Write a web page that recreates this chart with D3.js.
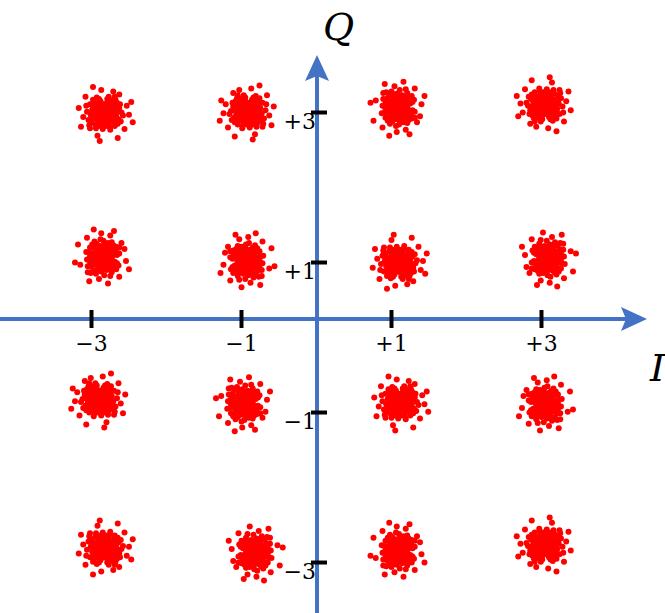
<!DOCTYPE html>
<html>
<head>
<meta charset="utf-8">
<script src="https://cdn.jsdelivr.net/npm/d3@7"></script>
<style>
  html, body { margin: 0; padding: 0; background: #ffffff; }
  svg { display: block; }
</style>
</head>
<body>
<svg id="chart" width="665" height="613"></svg>
<script>
// ---- data ----
const tickValues = [-3, -1, 1, 3];
const xTickLabels = ["\u22123", "\u22121", "+1", "+3"];
const yTickLabels = ["\u22123", "\u22121", "+1", "+3"];
// measured cluster centres (I, Q) of the 16-QAM constellation
const clusterI = [-2.83, -0.91, 1.09, 3.05,
                  -2.85, -0.93, 1.09, 3.09,
                  -2.89, -0.97, 1.11, 3.05,
                  -2.83, -0.82, 1.09, 3.05];
const clusterQ = [2.99, 3.01, 3.07, 3.10,
                  1.06, 1.01, 1.00, 1.06,
                  -0.83, -0.87, -0.87, -0.90,
                  -2.81, -2.86, -2.85, -2.77];
// estimated noise offsets (I, Q) of the received symbols around a centre
const noiseI = [0.02,-0.11,0.14,-0.06,0.09,-0.18,0.05,0.12,-0.03,0.20,
  -0.14,0.07,-0.09,0.16,-0.01,0.04,-0.16,0.11,-0.07,0.18,
  -0.21,0.01,0.13,-0.05,0.08,-0.12,0.23,-0.02,0.06,-0.19,
  0.10,-0.08,0.03,0.15,-0.13,0.19,-0.04,0.06,-0.17,0.12,
  -0.10,0.00,0.21,-0.23,0.08,-0.06,0.14,-0.15,0.03,0.17,
  -0.03,0.09,-0.20,0.25,-0.11,0.05,-0.14,0.11,-0.07,0.02,
  0.30,-0.28,0.12,-0.09,0.27,-0.25,0.33,-0.04,0.20,-0.31,
  0.07,-0.02,0.13,-0.12,0.04,-0.17,0.18,-0.08,0.10,-0.01,
  0.16,-0.05,0.07,-0.15,0.01,0.22,-0.19,0.14,-0.24,0.06,
  0.36,-0.34,0.18,-0.15,0.38,-0.06,
  0.00,0.05,-0.04,0.08,-0.08,0.03,-0.02,0.10,-0.10,0.06,
  -0.06,0.01,0.09,-0.05,0.04,-0.09,0.11,-0.01,0.07,-0.07,
  0.02,-0.11,0.05,-0.03,0.12,-0.12,0.08,-0.04,0.00,0.03,
  -0.08,0.10,-0.06,0.06,-0.02,0.13,-0.13,0.04,-0.10,0.09];
const noiseQ = [-0.05,0.08,0.03,-0.13,0.12,-0.02,0.17,-0.10,0.01,0.07,
  0.15,-0.18,-0.07,-0.04,0.11,-0.09,0.05,0.15,0.19,-0.14,
  -0.09,0.06,0.09,-0.17,0.02,-0.15,0.01,-0.21,0.22,0.12,
  -0.02,0.03,0.13,0.18,-0.04,-0.08,0.07,-0.14,-0.12,0.05,
  0.21,-0.12,0.12,0.02,-0.22,-0.01,-0.17,0.18,0.03,0.14,
  -0.08,0.08,-0.16,-0.03,-0.20,0.10,0.09,-0.06,0.14,-0.17,
  0.10,-0.05,0.29,-0.30,-0.21,0.22,-0.02,0.31,0.25,-0.18,
  -0.03,0.04,-0.12,0.12,0.19,-0.06,0.02,-0.11,0.17,-0.03,
  0.10,0.16,-0.08,0.00,-0.15,-0.11,-0.20,0.22,0.10,0.05,
  0.15,0.07,-0.33,0.35,-0.12,-0.37,
  0.00,-0.03,0.06,0.05,-0.02,-0.09,0.10,-0.06,0.04,0.09,
  -0.08,0.12,-0.01,0.02,-0.05,0.08,0.04,-0.11,-0.09,0.11,
  0.07,-0.04,0.00,-0.12,-0.03,0.01,0.12,0.13,-0.08,0.03,
  -0.10,0.07,0.06,-0.05,-0.06,0.08,-0.07,0.10,0.12,0.01];
// per-cluster orientation of the noise pattern [flipI, flipQ, swap]
const clusterOrient = [[1,1,0],[-1,1,0],[1,-1,1],[-1,-1,0],
                       [1,1,1],[-1,1,1],[1,-1,0],[-1,-1,1],
                       [-1,1,0],[1,-1,1],[1,1,0],[-1,1,1],
                       [1,-1,0],[-1,-1,1],[1,1,1],[-1,-1,0]];
const axisLabels = { x: "I", y: "Q" };

// ---- layout ----
const W = 665, H = 613;
const x = d3.scaleLinear().domain([-4.22, 4.647]).range([0, W]);
const y = d3.scaleLinear().domain([4.5, -3.673]).range([0, H]);
const hAxisQ = 0.247;     // level where the I axis crosses
const vAxisI = 0.007;     // level where the Q axis crosses
const axisColor = "#4472C4";

const svg = d3.select("#chart");

// points
const pts = [];
clusterI.forEach((ci, k) => {
  const [fi, fq, sw] = clusterOrient[k];
  noiseI.forEach((ni, j) => {
    const nq = noiseQ[j];
    const a = sw ? nq : ni, b = sw ? ni : nq;
    pts.push([ci + fi * a, clusterQ[k] + fq * b]);
  });
});
svg.append("g").selectAll("circle").data(pts).join("circle")
  .attr("cx", d => x(d[0])).attr("cy", d => y(d[1]))
  .attr("r", 3).attr("fill", "#ff0000");

// axes lines
const xEnd = 4.407, yTop = 3.767;
svg.append("line")
  .attr("x1", x(-4.22)).attr("x2", x(xEnd) - 18)
  .attr("y1", y(hAxisQ)).attr("y2", y(hAxisQ))
  .attr("stroke", axisColor).attr("stroke-width", 4);
svg.append("line")
  .attr("x1", x(vAxisI)).attr("x2", x(vAxisI))
  .attr("y1", y(-3.673)).attr("y2", y(yTop) + 18)
  .attr("stroke", axisColor).attr("stroke-width", 4);

// arrowheads
const tx = x(xEnd), ty = y(hAxisQ);
svg.append("path")
  .attr("d", `M${tx},${ty} L${tx-26},${ty-12} L${tx-21},${ty} L${tx-26},${ty+12} Z`)
  .attr("fill", axisColor);
const vx = x(vAxisI), vy = y(yTop);
svg.append("path")
  .attr("d", `M${vx},${vy} L${vx-12},${vy+26} L${vx},${vy+21} L${vx+12},${vy+26} Z`)
  .attr("fill", axisColor);

// ticks
const tickFont = "'DejaVu Serif', serif";
svg.append("g").selectAll("line").data(tickValues).join("line")
  .attr("x1", d => x(d)).attr("x2", d => x(d))
  .attr("y1", y(hAxisQ) - 9).attr("y2", y(hAxisQ) + 9)
  .attr("stroke", "#000").attr("stroke-width", 4);
svg.append("g").selectAll("text").data(tickValues).join("text")
  .attr("x", d => x(d)).attr("y", y(hAxisQ) + 32)
  .attr("text-anchor", "middle")
  .attr("font-family", tickFont).attr("font-size", 22)
  .text((d, i) => xTickLabels[i]);

svg.append("g").selectAll("line").data(tickValues).join("line")
  .attr("x1", x(vAxisI) - 6).attr("x2", x(vAxisI) + 10)
  .attr("y1", d => y(d)).attr("y2", d => y(d))
  .attr("stroke", "#000").attr("stroke-width", 4);
svg.append("g").selectAll("text").data(tickValues).join("text")
  .attr("x", x(vAxisI) - 1).attr("y", d => y(d) + 16)
  .attr("text-anchor", "end")
  .attr("font-family", tickFont).attr("font-size", 22)
  .text((d, i) => yTickLabels[i]);

// axis titles
svg.append("text")
  .attr("x", 323).attr("y", 40)
  .attr("font-family", tickFont).attr("font-style", "italic")
  .attr("font-size", 38).text(axisLabels.y);
svg.append("text")
  .attr("x", 650).attr("y", 381)
  .attr("font-family", tickFont).attr("font-style", "italic")
  .attr("font-size", 38).text(axisLabels.x);
</script>
</body>
</html>
